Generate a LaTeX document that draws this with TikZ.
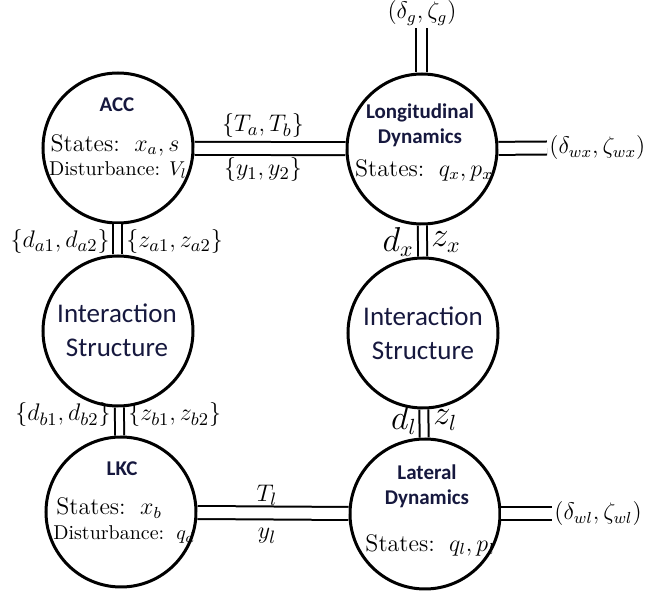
\documentclass[tikz,border=0pt]{standalone}
\usepackage{fontspec}
\newfontfamily\carl{Carlito}
\definecolor{navy}{RGB}{22,24,62}
\begin{document}
\begin{tikzpicture}[x=0.5pt,y=-0.5pt,
  blob/.style={circle,draw,line width=1.5pt,minimum size=75pt,inner sep=0pt},
  dblh/.style={draw,line width=1pt,double,double distance=5.5pt},
  dblv/.style={draw,line width=1pt,double,double distance=3.5pt},
  dblg/.style={draw,line width=1pt,double,double distance=4.5pt},
  ttl/.style={font=\carl\bfseries\fontsize{10.5}{12.5}\selectfont,text=navy,align=center,inner sep=0pt},
  inter/.style={font=\carl\fontsize{13.5}{17}\selectfont,text=navy,align=center,inner sep=0pt},
  st/.style={font=\fontsize{12}{14}\selectfont,inner sep=0pt},
  dist/.style={font=\fontsize{10}{12}\selectfont,inner sep=0pt},
  lab/.style={font=\fontsize{12.5}{14}\selectfont,inner sep=1pt},
  big/.style={font=\fontsize{16}{18}\selectfont,inner sep=1pt},
  ext/.style={font=\fontsize{12}{14}\selectfont,inner sep=1pt}
]
\useasboundingbox (0,0) rectangle (650,593);

% circles
\node[blob] (acc) at (118,148) {};
\node[blob] (long) at (422,149) {};
\node[blob] (intl) at (118,331) {};
\node[blob] (intr) at (423,333) {};
\node[blob] (lkc) at (121,512) {};
\node[blob] (lat) at (425,514) {};

% free ends
\coordinate (gtop) at (422,28);
\coordinate (wxend) at (547,148);
\coordinate (wlend) at (552,514);

% connectors
\draw[dblh] (acc) -- (long);
\draw[dblh] (lkc) -- (lat);
\draw[dblv] (acc) -- (intl);
\draw[dblv] (intl) -- (lkc);
\draw[dblv] (long) -- (intr);
\draw[dblv] (intr) -- (lat);
\draw[dblg] (long) -- (gtop);
\draw[dblh] (long) -- (wxend);
\draw[dblh] (lat) -- (wlend);

% texts inside circles
\node[ttl] (acct) at (117,105) {ACC};
\node[st] (accs) at (115,145) {States: \,$x_a, s$};
\node[dist] (accd) at (118,170) {Disturbance: $V_l$};

\node[ttl] (longt) at (420,125) {Longitudinal\\Dynamics};
\node[st] (longs) at (424,170) {States: \,$q_x, p_x$};

\node[inter] (intlt) at (117,330) {Interaction\\Structure};
\node[inter] (intrt) at (423,333) {Interaction\\Structure};

\node[ttl] (lkct) at (122,469) {LKC};
\node[st, anchor=west] (lkcs) at (56,508) {States: \,$x_b$};
\node[dist] (lkcd) at (124,535) {Disturbance: \,$q_d$};

\node[ttl] (latt) at (427,486) {Lateral\\Dynamics};
\node[st] (lats) at (430,545) {States: \,$q_l, p_l$};

% connector labels
\node[lab] (tab) at (263,126) {$\{T_a, T_b\}$};
\node[lab] (y12) at (263,170) {$\{y_1, y_2\}$};
\node[lab] (tl) at (267,495) {$T_l$};
\node[lab] (yl) at (267,536) {$y_l$};

\node[lab, anchor=east] (da) at (112,242) {$\{d_{a1}, d_{a2}\}$};
\node[lab, anchor=west] (za) at (124,242) {$\{z_{a1}, z_{a2}\}$};
\node[lab, anchor=east] (db) at (113,415) {$\{d_{b1}, d_{b2}\}$};
\node[lab, anchor=west] (zb) at (126,415) {$\{z_{b1}, z_{b2}\}$};

\node[big, anchor=east] (dx) at (416,242) {$d_x$};
\node[big, anchor=west] (zx) at (429,242) {$z_x$};
\node[big, anchor=east] (dl) at (419,420) {$d_l$};
\node[big, anchor=west] (zl) at (431,420) {$z_l$};

\node[ext, anchor=south] (glab) at (gtop) {$(\delta_g, \zeta_g)$};
\node[ext, anchor=west] (wxlab) at (wxend) {$(\delta_{wx}, \zeta_{wx})$};
\node[ext, anchor=west] (wllab) at (wlend) {$(\delta_{wl}, \zeta_{wl})$};
\end{tikzpicture}
\end{document}
